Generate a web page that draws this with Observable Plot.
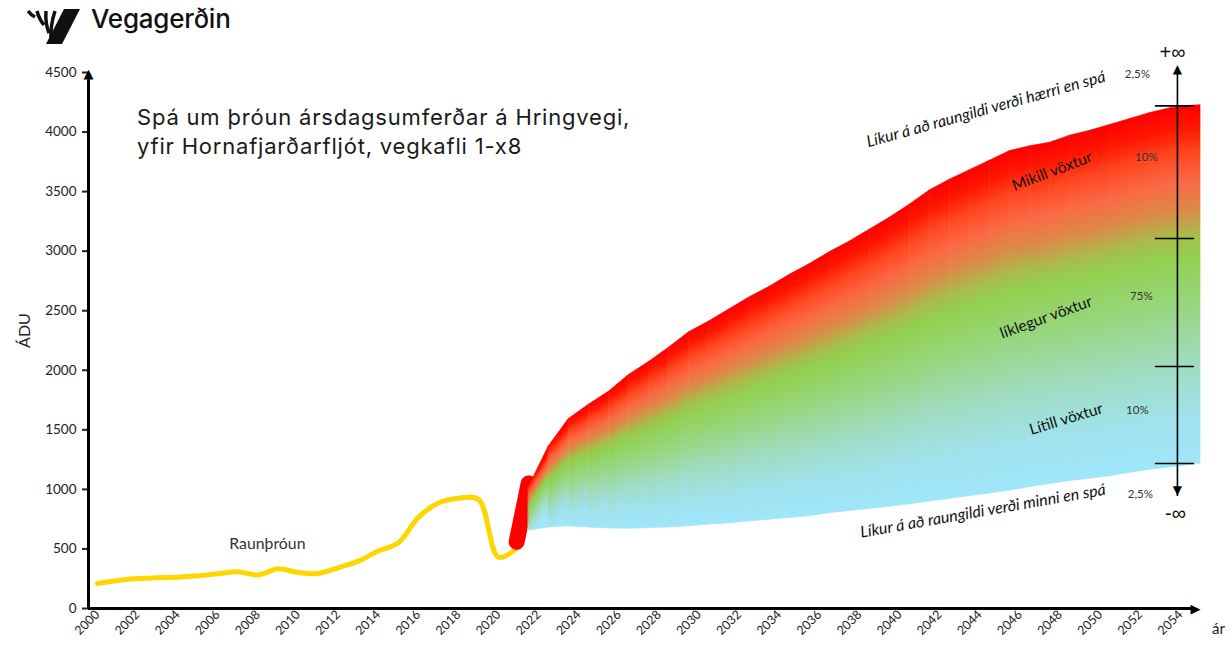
<!DOCTYPE html>
<html><head><meta charset="utf-8">
<script src="https://cdn.jsdelivr.net/npm/d3@7"></script>
<script src="https://cdn.jsdelivr.net/npm/@observablehq/plot@0.6"></script>
<style>
html,body{margin:0;padding:0;background:#fff;}
#wrap{position:relative;width:1232px;height:649px;overflow:hidden;}
#chart{position:absolute;left:0;top:0;}
#title{position:absolute;left:137px;top:103px;font-family:Inter,sans-serif;font-size:22px;letter-spacing:0.8px;line-height:29px;color:#1a1a1a;white-space:nowrap;}
#logo{position:absolute;left:26px;top:6px;}
#brand{position:absolute;left:91px;top:3px;font-family:Inter,sans-serif;font-weight:500;font-size:26px;letter-spacing:-0.2px;color:#111;}
</style></head><body>
<div id="wrap">
  <div id="chart"></div>
  <svg id="logo" width="60" height="42" viewBox="0 0 60 42">
    <polygon points="38,3 54,3 36,38 20,38" fill="#111"/>
    <path d="M2,5 Q5,9 9,11" stroke="#111" stroke-width="3.5" fill="none"/>
    <path d="M11,5 Q13,13 18,19" stroke="#111" stroke-width="3.5" fill="none"/>
    <path d="M20,5 Q19,17 23,27" stroke="#111" stroke-width="3.5" fill="none"/>
    <path d="M29,5 Q24,20 25,35" stroke="#111" stroke-width="3.5" fill="none"/>
  </svg>
  <div id="brand">Vegagerðin</div>
  <div id="title">Spá um þróun ársdagsumferðar á Hringvegi,<br>yfir Hornafjarðarfljót, vegkafli 1-x8</div>
</div>
<script>
// ---- data ----
const actualYears = [2000,2001,2002,2003,2004,2005,2006,2007,2008,2009,2010,2011,2012,2013,2014,2015,2016,2017,2018,2019,2020,2021];
const actualADU   = [210,235,252,258,262,274,292,308,282,333,302,293,342,398,482,552,765,885,925,915,430,520];

const linkYears = [2020.9, 2021.5];
const linkADU   = [560, 1050];

const fanYears = [2021.5,2022.5,2023.5,2024.5,2025.5,2026.5,2027.5,2028.5,2029.5,2030.5,2031.5,2032.5,2033.5,2034.5,2035.5,2036.5,2037.5,2038.5,2039.5,2040.5,2041.5,2042.5,2043.5,2044.5,2045.5,2046.5,2047.5,2048.5,2049.5,2050.5,2051.5,2052.5,2053.5,2054.5,2055];
const fanHigh  = [1016,1360,1590,1710,1820,1960,2070,2190,2320,2410,2510,2610,2700,2800,2890,2990,3080,3180,3280,3390,3510,3600,3680,3760,3840,3880,3910,3970,4010,4060,4110,4160,4200,4220,4225];
const fanLow   = [655,680,690,680,672,670,675,680,690,705,715,730,745,760,775,800,818,835,855,875,898,920,945,965,990,1020,1045,1070,1090,1110,1140,1165,1185,1205,1215];

const xTickYears  = [2000,2002,2004,2006,2008,2010,2012,2014,2016,2018,2020,2022,2024,2026,2028,2030,2032,2034,2036,2038,2040,2042,2044,2046,2048,2050,2052,2054];
const yTickValues = [0,500,1000,1500,2000,2500,3000,3500,4000,4500];

const bandEdges  = [4220, 3106, 2032, 1217];
const bandShares = ["2,5%", "10%", "75%", "10%", "2,5%"];
const bandNames  = ["Líkur á að raungildi verði hærri en spá", "Mikill vöxtur", "líklegur vöxtur", "Lítill vöxtur", "Líkur á að raungildi verði minni en spá"];
const actualName = "Raunþróun";

// colours of the fan, top to bottom
const fanStops = [
  [0, "#ff0000"], [0.06, "#ff1500"], [0.13, "#ff4520"], [0.21, "#fb6845"], [0.29, "#dc8a48"],
  [0.36, "#a9bb4a"], [0.42, "#92d050"], [0.56, "#98d680"], [0.73, "#a0dcc4"], [0.88, "#a0e3ef"], [1, "#a0e6fa"]
];

// ---- label placement (data coordinates) ----
const namePos  = [
  {x: 2044.3,  y: 4190, rotate: -15.5, italic: true},
  {x: 2047.6,  y: 3669, rotate: -21},
  {x: 2047.3,  y: 2443, rotate: -20},
  {x: 2048.3,  y: 1590, rotate: -17},
  {x: 2044.15, y: 818,  rotate: -10, italic: true}
];
const sharePos = [
  {x: 2051.85, y: 4483}, {x: 2052.3, y: 3787}, {x: 2052.05, y: 2619}, {x: 2051.85, y: 1662}, {x: 2052.0, y: 957}
];

const actual = actualYears.map((x, i) => ({x, y: actualADU[i]}));
const link = linkYears.map((x, i) => ({x, y: linkADU[i]}));
const fanRows = [];
for (let i = 0; i < fanYears.length - 1; i++) {
  for (const j of [i, i + 1]) fanRows.push({x: fanYears[j], lo: fanLow[j], hi: fanHigh[j], seg: i});
}
const names = bandNames.map((t, i) => ({...namePos[i], text: t}));
const shares = bandShares.map((t, i) => ({...sharePos[i], text: t}));

const arrowX = 2053.85;
const xMin = 1999.55, xMax = 2055;
const W = 1232, H = 649, mL = 88, mR = 32, mT = 72, mB = 41;

const svg = Plot.plot({
  width: W, height: H,
  marginLeft: mL, marginRight: mR, marginTop: mT, marginBottom: mB,
  x: {domain: [xMin, xMax]},
  y: {domain: [0, 4500]},
  style: {fontFamily: "Lato, sans-serif", color: "#222", background: "white", overflow: "visible"},
  marks: [
    Plot.line(actual, {x: "x", y: "y", stroke: "#FFD600", strokeWidth: 5, curve: "catmull-rom"}),
    Plot.line(link, {x: "x", y: "y", stroke: "#ff0000", strokeWidth: 16, strokeLinecap: "round"}),
    Plot.areaY(fanRows, {x: "x", y1: "lo", y2: "hi", z: "seg", fill: "#ff0000", stroke: "#ff0000", strokeWidth: 0.7}),
    // axes
    Plot.axisY({ticks: yTickValues, tickFormat: d => String(d), tickSize: 6, tickPadding: 6, fontSize: 13.5, strokeWidth: 2, label: null}),
    Plot.axisX({ticks: xTickYears, tickFormat: d => String(d), tickRotate: -45, tickSize: 0, tickPadding: 4, fontSize: 12.5, label: null}),
    Plot.ruleX([xMin], {y1: 0, y2: 4440, stroke: "black", strokeWidth: 3}),
    Plot.ruleY([0], {x1: xMin, x2: 2054.6, stroke: "black", strokeWidth: 3}),
    Plot.text([{x: xMin, y: 4490}], {x: "x", y: "y", text: () => "▲", fontSize: 13, fontFamily: "DejaVu Sans", fill: "black"}),
    Plot.text([{x: 2054.75, y: 0}], {x: "x", y: "y", text: () => "▶", fontSize: 13, fontFamily: "DejaVu Sans", fill: "black"}),
    Plot.text([{x: 1996.4, y: 2334}], {x: "x", y: "y", text: () => "ÁDU", rotate: -90, fontSize: 16, fill: "#222"}),
    Plot.text([{x: 2055.9, y: -170}], {x: "x", y: "y", text: () => "ár", fontSize: 15, fill: "#222"}),
    // annotations
    Plot.text([{x: 2008.47, y: 546}], {x: "x", y: "y", text: () => actualName, fontSize: 15.8, fill: "#333"}),
    Plot.text(names.filter(d => d.italic), {x: "x", y: "y", text: "text", rotate: "rotate", fontSize: 16, fontStyle: "italic", fill: "#111"}),
    Plot.text(names.filter(d => !d.italic), {x: "x", y: "y", text: "text", rotate: "rotate", fontSize: 15.5, fill: "#111"}),
    Plot.text(shares, {x: "x", y: "y", text: "text", fontSize: 11.5, fill: "#333"}),
    // probability scale at right
    Plot.ruleX([arrowX], {y1: 940, y2: 4540, stroke: "black", strokeWidth: 1.6}),
    Plot.ruleY(bandEdges, {x1: 2052.75, x2: 2054.7, stroke: "black", strokeWidth: 1.6}),
    Plot.text([{x: arrowX, y: 4525}], {x: "x", y: "y", text: () => "▲", fontSize: 12, fontFamily: "DejaVu Sans", fill: "black"}),
    Plot.text([{x: arrowX, y: 990}], {x: "x", y: "y", text: () => "▼", fontSize: 12, fontFamily: "DejaVu Sans", fill: "black"}),
    Plot.text([{x: 2053.6, y: 4668}], {x: "x", y: "y", text: () => "+∞", fontSize: 20, fontFamily: "Liberation Sans", fill: "#111"}),
    Plot.text([{x: 2053.75, y: 798}], {x: "x", y: "y", text: () => "-∞", fontSize: 20, fontFamily: "Liberation Sans", fill: "#111"})
  ]
});
document.getElementById("chart").appendChild(svg);

// per-column gradients that follow each column's own top edge
try {
  const ns = "http://www.w3.org/2000/svg";
  const defs = document.createElementNS(ns, "defs");
  svg.insertBefore(defs, svg.firstChild);
  const px = d3.scaleLinear([xMin, xMax], [mL, W - mR]);
  const py = d3.scaleLinear([0, 4500], [H - mB, mT]);
  const fanG = svg.querySelector('g[aria-label="area"]');
  const paths = fanG ? Array.from(fanG.querySelectorAll("path")) : [];
  paths.forEach((p, idx) => {
    let i = Math.min(idx, fanYears.length - 2);
    try {
      const bb = p.getBBox();
      let best = Infinity;
      for (let k = 0; k < fanYears.length - 1; k++) {
        const d = Math.abs(px(fanYears[k]) - bb.x);
        if (d < best) { best = d; i = k; }
      }
    } catch (e) {}
    const xa = px(fanYears[i]), xb = px(fanYears[i + 1]);
    const ta = py(fanHigh[i]), tb = py(fanHigh[i + 1]);
    const ba = py(fanLow[i]), bbm = py(fanLow[i + 1]);
    const w = xb - xa;
    const s = 0.75 * (tb - ta) / w + 0.25 * (bbm - ba) / w;
    const norm = Math.sqrt(1 + s * s);
    const nx = -s / norm, ny = 1 / norm;
    const xm = (xa + xb) / 2, tm = (ta + tb) / 2, bm = (ba + bbm) / 2;
    const L = (bm - tm) / norm;
    const vals = [xm, tm, xm + nx * L, tm + ny * L];
    if (vals.some(v => !isFinite(v))) return;
    const id = "fanGrad" + i;
    const g = document.createElementNS(ns, "linearGradient");
    g.setAttribute("id", id);
    g.setAttribute("gradientUnits", "userSpaceOnUse");
    g.setAttribute("x1", vals[0].toFixed(2)); g.setAttribute("y1", vals[1].toFixed(2));
    g.setAttribute("x2", vals[2].toFixed(2)); g.setAttribute("y2", vals[3].toFixed(2));
    for (const [o, c] of fanStops) {
      const st = document.createElementNS(ns, "stop");
      st.setAttribute("offset", String(o)); st.setAttribute("stop-color", c);
      g.appendChild(st);
    }
    defs.appendChild(g);
    p.setAttribute("fill", `url(#${id})`);
    p.setAttribute("stroke", `url(#${id})`);
  });
} catch (e) { console.error(e); }
</script>
</body></html>
